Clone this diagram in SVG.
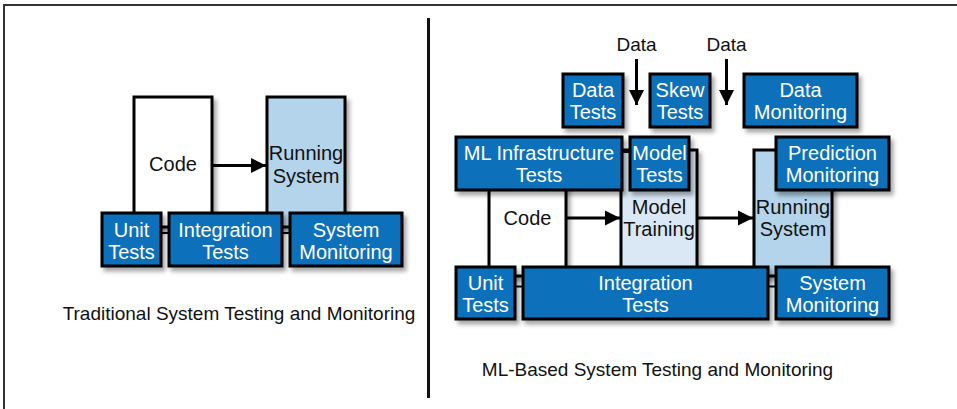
<svg xmlns="http://www.w3.org/2000/svg" width="957" height="409" viewBox="0 0 957 409">
<defs>
<filter id="sh" x="-20%" y="-20%" width="150%" height="160%">
<feDropShadow dx="3" dy="4" stdDeviation="2" flood-color="#000" flood-opacity="0.35"/>
</filter>
<marker id="ah" viewBox="0 0 10 10" refX="10" refY="5" markerWidth="5" markerHeight="5.5" orient="auto" markerUnits="strokeWidth">
<path d="M0,0 L10,5 L0,10 Z" fill="#000"/>
</marker>
</defs>
<style>
.t{fill:#0b6fba;stroke:#000;stroke-width:3;filter:url(#sh)}
.w{fill:#fff;stroke:#000;stroke-width:3;filter:url(#sh)}
.rs{fill:#b3d4ea;stroke:#000;stroke-width:3;filter:url(#sh)}
.mt{fill:#d9e8f4;stroke:#000;stroke-width:3;filter:url(#sh)}
text{font-family:"Liberation Sans",Arial,sans-serif;text-anchor:middle}
.wt{fill:#fff;font-size:20px}
.bt{fill:#111;font-size:20px}
.cap{fill:#111;font-size:19px}
.lbl{fill:#111;font-size:19px}
.arr{stroke:#000;stroke-width:3;fill:none;marker-end:url(#ah)}
.cn{stroke:#000;stroke-width:2;fill:none}
.fr{stroke:#333;stroke-width:2;fill:none}
</style>
<rect width="957" height="409" fill="#fff"/>
<path class="fr" d="M4,409 V5 H957"/>
<line x1="428.5" y1="18" x2="428.5" y2="398" stroke="#111" stroke-width="3"/>

<!-- Left diagram -->
<g id="l-code"><rect class="w" x="134" y="97" width="78" height="130"/><text class="bt" x="173" y="171">Code</text></g>
<g id="l-running"><rect class="rs" x="267" y="97" width="78" height="130"/><text class="bt" x="306" y="160">Running</text><text class="bt" x="306" y="183">System</text></g>
<g id="l-connectors">
<line class="arr" x1="212" y1="165.5" x2="266" y2="165.5"/>
<line class="cn" x1="161" y1="233" x2="169" y2="233"/>
<line class="cn" x1="282" y1="233" x2="290" y2="233"/>
</g>
<g id="l-unit"><rect class="t" x="102" y="213" width="59" height="53"/><text class="wt" x="131.5" y="236.5">Unit</text><text class="wt" x="131.5" y="258.5">Tests</text></g>
<g id="l-integration"><rect class="t" x="169" y="213" width="113" height="53"/><text class="wt" x="225.5" y="236.5">Integration</text><text class="wt" x="225.5" y="258.5">Tests</text></g>
<g id="l-sysmon"><rect class="t" x="290" y="213" width="112" height="53"/><text class="wt" x="346" y="236.5">System</text><text class="wt" x="346" y="258.5">Monitoring</text></g>
<text class="cap" x="239" y="320">Traditional System Testing and Monitoring</text>

<!-- Right diagram -->
<g id="r-code"><rect class="w" x="489" y="180" width="77" height="96"/><text class="bt" x="527.5" y="225">Code</text></g>
<g id="r-training"><rect class="mt" x="621" y="150" width="76" height="126"/><text class="bt" x="659" y="214">Model</text><text class="bt" x="659" y="236">Training</text></g>
<g id="r-running"><rect class="rs" x="754" y="150" width="78" height="126"/><text class="bt" x="793" y="214">Running</text><text class="bt" x="793" y="236">System</text></g>

<g id="r-connectors">
<line class="arr" x1="636.5" y1="59" x2="636.5" y2="105"/>
<line class="arr" x1="726.5" y1="59" x2="726.5" y2="105"/>
<line class="arr" x1="566" y1="218" x2="620" y2="218"/>
<line class="arr" x1="697" y1="218" x2="753" y2="218"/>
<line class="cn" x1="621" y1="152" x2="630" y2="152"/>
<line class="cn" x1="515" y1="286.5" x2="523" y2="286.5"/>
<line class="cn" x1="768" y1="286.5" x2="776" y2="286.5"/>
</g>
<text class="lbl" x="636.5" y="51">Data</text>
<text class="lbl" x="726.5" y="51">Data</text>

<g id="r-datatests"><rect class="t" x="563" y="74" width="60" height="53"/><text class="wt" x="593" y="97">Data</text><text class="wt" x="593" y="119">Tests</text></g>
<g id="r-skew"><rect class="t" x="650" y="74" width="60" height="53"/><text class="wt" x="680" y="97">Skew</text><text class="wt" x="680" y="119">Tests</text></g>
<g id="r-datamon"><rect class="t" x="744" y="74" width="113" height="53"/><text class="wt" x="800.5" y="97">Data</text><text class="wt" x="800.5" y="119">Monitoring</text></g>
<g id="r-mlinfra"><rect class="t" x="456" y="137" width="166" height="53"/><text class="wt" x="539" y="160">ML Infrastructure</text><text class="wt" x="539" y="182">Tests</text></g>
<g id="r-modeltests"><rect class="t" x="630" y="137" width="59" height="53"/><text class="wt" x="659.5" y="160">Model</text><text class="wt" x="659.5" y="182">Tests</text></g>
<g id="r-predmon"><rect class="t" x="776" y="137" width="113" height="53"/><text class="wt" x="832.5" y="160">Prediction</text><text class="wt" x="832.5" y="182">Monitoring</text></g>
<g id="r-unit"><rect class="t" x="456" y="267" width="59" height="52"/><text class="wt" x="485.5" y="290">Unit</text><text class="wt" x="485.5" y="312">Tests</text></g>
<g id="r-integration"><rect class="t" x="523" y="267" width="245" height="52"/><text class="wt" x="645.5" y="290">Integration</text><text class="wt" x="645.5" y="312">Tests</text></g>
<g id="r-sysmon"><rect class="t" x="776" y="267" width="113" height="52"/><text class="wt" x="832.5" y="290">System</text><text class="wt" x="832.5" y="312">Monitoring</text></g>
<text class="cap" x="657.5" y="376">ML-Based System Testing and Monitoring</text>
</svg>
